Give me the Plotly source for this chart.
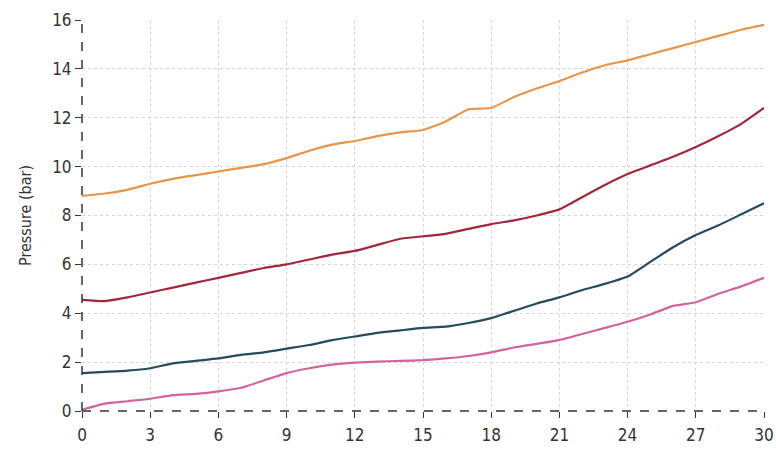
import plotly.graph_objects as go

x_vals = list(range(0, 31))
orange = [8.8, 8.9, 9.05, 9.3, 9.5, 9.65, 9.8, 9.95, 10.1, 10.35, 10.65, 10.9, 11.05, 11.25, 11.4, 11.5,
          11.85, 12.35, 12.4, 12.85, 13.2, 13.5, 13.85, 14.15, 14.35, 14.6, 14.85, 15.1, 15.35, 15.6, 15.8]
red = [4.55, 4.5, 4.65, 4.85, 5.05, 5.25, 5.45, 5.65, 5.85, 6.0, 6.2, 6.4, 6.55, 6.8, 7.05, 7.15,
       7.25, 7.45, 7.65, 7.8, 8.0, 8.25, 8.75, 9.25, 9.7, 10.05, 10.4, 10.8, 11.25, 11.75, 12.4]
teal = [1.55, 1.6, 1.65, 1.75, 1.95, 2.05, 2.15, 2.3, 2.4, 2.55, 2.7, 2.9, 3.05, 3.2, 3.3, 3.4,
        3.45, 3.6, 3.8, 4.1, 4.4, 4.65, 4.95, 5.2, 5.5, 6.1, 6.7, 7.2, 7.6, 8.05, 8.5]
pink = [0.05, 0.3, 0.4, 0.5, 0.65, 0.7, 0.8, 0.95, 1.25, 1.55, 1.75, 1.9, 1.98, 2.02, 2.05, 2.08,
        2.15, 2.25, 2.4, 2.6, 2.75, 2.9, 3.15, 3.4, 3.65, 3.95, 4.3, 4.45, 4.8, 5.1, 5.45]

series = [
    ("Series A", orange, "#e8954a"),
    ("Series B", red, "#a0283c"),
    ("Series C", teal, "#264a5e"),
    ("Series D", pink, "#d4639c"),
]

x_ticks = list(range(0, 31, 3))
y_ticks = list(range(0, 17, 2))

fig = go.Figure()
for name, vals, color in series:
    fig.add_trace(go.Scatter(x=x_vals, y=vals, mode="lines", name=name,
                             line=dict(color=color, width=2.2, shape="spline", smoothing=0.4)))

font_family = "DejaVu Sans Condensed, Liberation Sans Narrow, Arial Narrow, sans-serif"

fig.update_layout(
    width=776, height=450,
    margin=dict(l=82, r=12, t=20, b=39),
    paper_bgcolor="white", plot_bgcolor="white",
    showlegend=False,
    font=dict(family=font_family, size=15, color="#333333"),
)
fig.update_xaxes(
    range=[0, 30], tickvals=x_ticks, showgrid=True, gridcolor="#d6d6d6", griddash="dot", gridwidth=1,
    showline=False, zeroline=False, ticks="outside", ticklen=6, tickcolor="#333333",
    tickfont=dict(size=17, color="#333333"), ticklabelstandoff=3, automargin=False,
)
fig.update_yaxes(
    range=[0, 16], tickvals=y_ticks, showgrid=True, gridcolor="#d6d6d6", griddash="dot", gridwidth=1,
    showline=False, zeroline=False, ticks="outside", ticklen=6, tickcolor="#333333",
    tickfont=dict(size=17, color="#333333"), automargin=False,
    title=dict(text="Pressure (bar)", font=dict(size=16, color="#333333"), standoff=16),
)
# dashed axis lines
fig.add_shape(type="line", xref="paper", yref="paper", x0=0, x1=1, y0=0, y1=0,
              line=dict(color="#333333", width=1.5, dash="dash"), layer="above")
fig.add_shape(type="line", xref="paper", yref="paper", x0=0, x1=0, y0=0, y1=1,
              line=dict(color="#333333", width=1.5, dash="dash"), layer="above")

fig.write_html("out.html")
